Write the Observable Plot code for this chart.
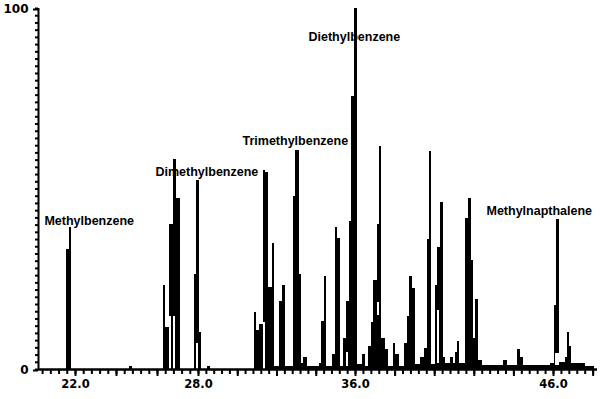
<!DOCTYPE html>
<html><head><meta charset="utf-8">
<script src="https://cdn.jsdelivr.net/npm/d3@7"></script>
<script src="https://cdn.jsdelivr.net/npm/@observablehq/plot@0.6"></script>
<style>
body{margin:0;background:#fff}
#chart svg{display:block}
</style>
</head><body><div id="chart"></div>
<script>
// retention time (start of each scan step) and relative abundance (%)
const times = [21.561, 21.722, 21.790, 24.634, 24.780, 26.278, 26.376, 26.571, 26.795, 26.912, 27.122, 27.805, 27.902, 28.036, 28.138, 28.474, 28.611, 30.854, 30.971, 31.124, 31.312, 31.414, 31.582, 31.771, 31.873, 32.143, 32.280, 32.418, 32.825, 32.958, 33.162, 33.264, 33.366, 33.539, 34.150, 34.283, 34.405, 34.522, 34.828, 34.981, 35.083, 35.236, 35.389, 35.541, 35.679, 35.811, 35.949, 36.086, 36.354, 36.520, 36.657, 36.823, 36.924, 37.126, 37.197, 37.328, 37.500, 37.667, 37.904, 38.005, 38.207, 38.475, 38.611, 38.742, 38.879, 39.015, 39.283, 39.485, 39.621, 39.722, 39.823, 40.056, 40.157, 40.293, 40.429, 40.561, 40.798, 40.934, 41.035, 41.167, 41.268, 41.571, 41.707, 41.843, 41.944, 42.045, 42.212, 42.414, 43.490, 43.662, 44.197, 44.333, 44.470, 45.848, 46.051, 46.152, 46.288, 46.591, 46.692, 46.793, 46.894, 47.631, 48.071];
const values = [33.2, 39.3, 0, 0.8, 0, 23.3, 11.6, 40.2, 58.2, 47.4, 0, 26.2, 52.4, 10.2, 0, 0.8, 0, 15.9, 10.9, 12.6, 55.1, 54.6, 22.6, 34.9, 0.7, 18.8, 23.3, 0.8, 47.9, 60.7, 26.3, 1.6, 3.4, 0.8, 1.7, 13.3, 25.8, 0.8, 4.2, 39.4, 36.4, 0.8, 8.6, 18.8, 41.1, 75.6, 100, 1.4, 4.2, 0.8, 6.4, 13.1, 24.7, 40.2, 61.9, 8.6, 5.5, 0.8, 7.3, 4.2, 0.8, 7.3, 14.7, 25.8, 22.4, 1.4, 3.4, 5.8, 35.9, 60.5, 1.4, 23.3, 33.9, 46.3, 3.4, 1.7, 3.4, 1.7, 4.8, 7.8, 1.8, 41.7, 47.3, 30.2, 8.6, 19.3, 2.5, 1.1, 2.5, 1.1, 5.5, 3.2, 1.1, 1.7, 17.7, 41.5, 1.9, 3.4, 10.3, 6.4, 1.7, 0.8, 0];

// white separations between overlapping scans
const gapStart = [26.571, 26.795, 27.902, 31.312, 35.541, 37.096, 40.126, 46.116];
const gapEnd   = [26.668, 26.863, 28.015, 31.414, 35.618, 37.227, 40.227, 46.288];
const gapLow   = [0, 0, 0, 0, 0.8, 15.0, 1.7, 1.2];
const gapHigh  = [14.7, 14.7, 7.3, 13.1, 4.8, 18.6, 16.3, 4.4];

// compound labels
const labelNames = ["Methylbenzene", "Dimethylbenzene", "Trimethylbenzene", "Diethylbenzene", "Methylnapthalene"];
const labelTimes = [20.488, 25.902, 30.242, 33.605, 42.616];
const labelValues = [41.0, 54.6, 63.4, 92.2, 43.8];

// axes
const xTickLabels = [22, 28, 36, 46];
const yTickLabels = [0, 100];
const xDomain = [20.2, 22, 28, 36, 46, 48.22];
const xRange = [38, 75, 198, 355, 553, 597];

const steps = times.map((t, i) => ({t, v: values[i]}));
const gaps = gapStart.map((s, i) => ({x1: s, x2: gapEnd[i], y1: gapLow[i], y2: gapHigh[i]}));
const labels = labelNames.map((name, i) => ({name, t: labelTimes[i], v: labelValues[i]}));
const minorX = d3.range(51, 121).map(i => +(i * 0.4).toFixed(1));
const majorX = d3.range(11, 25).map(i => i * 2);
const minorY = d3.range(0, 51).map(i => i * 2);

const font = "DejaVu Sans, Liberation Sans, Arial, sans-serif";

const chart = Plot.plot({
  width: 600,
  height: 399,
  marginLeft: 38,
  marginRight: 3,
  marginTop: 8,
  marginBottom: 30,
  style: {fontFamily: font, color: "#000", background: "#fff"},
  x: {type: "linear", domain: xDomain, range: xRange, axis: null},
  y: {domain: [0, 100], axis: null},
  marks: [
    Plot.areaY(steps, {x: "t", y: "v", curve: "step-after", fill: "#000", shapeRendering: "crispEdges"}),
    Plot.rect(gaps, {x1: "x1", x2: "x2", y1: "y1", y2: "y2", fill: "#fff", shapeRendering: "crispEdges"}),
    Plot.ruleY([0], {stroke: "#000", strokeWidth: 2.5}),
    Plot.ruleX([xDomain[0]], {stroke: "#000", strokeWidth: 2}),
    Plot.axisX({ticks: minorX, tickSize: 5, strokeWidth: 2, tickFormat: () => "", label: null}),
    Plot.axisX({ticks: majorX, tickSize: 7, strokeWidth: 2, tickFormat: () => "", label: null}),
    Plot.axisX({ticks: xTickLabels, tickSize: 0, tickPadding: 10, tickFormat: d3.format(".1f"), fontSize: 11.5, fontWeight: "bold", label: null}),
    Plot.axisY({ticks: minorY, tickSize: 3, strokeWidth: 2, tickFormat: () => "", label: null}),
    Plot.axisY({ticks: yTickLabels, tickSize: 5, strokeWidth: 2, tickPadding: 5, tickFormat: d => String(d), fontSize: 12, fontWeight: "bold", dy: 1, label: null}),
    Plot.text(labels, {x: "t", y: "v", text: "name", textAnchor: "start", fontSize: 12.5, fontWeight: "bold", fontFamily: "Liberation Sans, Arial, sans-serif", fill: "#000"})
  ]
});
document.getElementById("chart").appendChild(chart);
</script>
</body></html>
